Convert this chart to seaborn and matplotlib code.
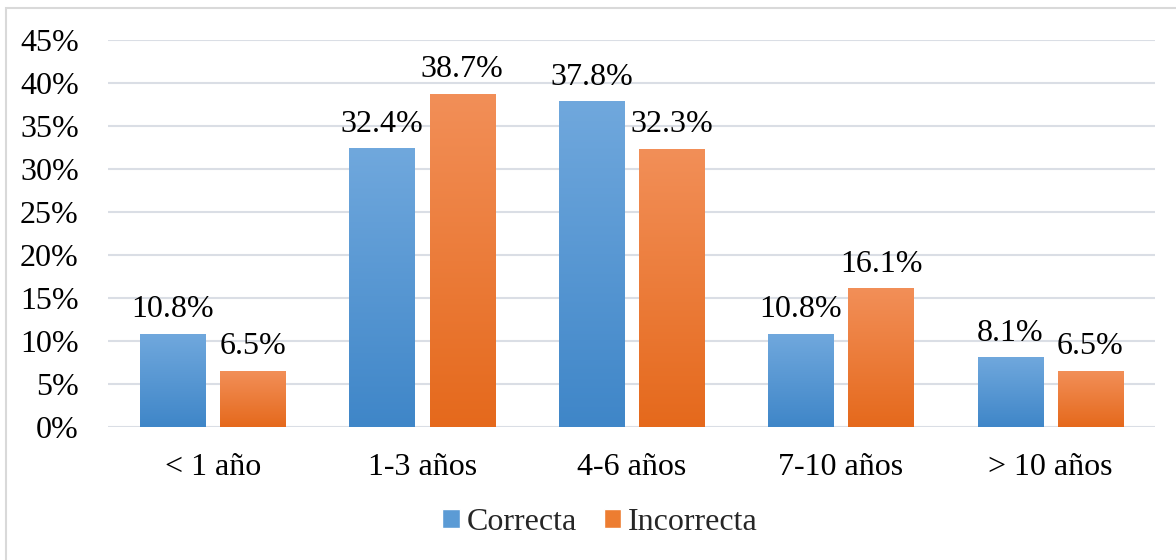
import numpy as np
import pandas as pd
import matplotlib
matplotlib.use("Agg")
import matplotlib.pyplot as plt
import seaborn as sns
from matplotlib.colors import LinearSegmentedColormap
from matplotlib.patches import Rectangle, Patch

categories = ["< 1 año", "1-3 años", "4-6 años", "7-10 años", "> 10 años"]
series = ["Correcta", "Incorrecta"]
correcta = [10.8, 32.4, 37.8, 10.8, 8.1]
incorrecta = [6.5, 38.7, 32.3, 16.1, 6.5]
y_ticks = [0, 5, 10, 15, 20, 25, 30, 35, 40, 45]

df = pd.DataFrame({
    "categoria": categories * 2,
    "serie": [series[0]] * len(categories) + [series[1]] * len(categories),
    "valor": correcta + incorrecta,
})

sns.set_theme(style="white")
plt.rcParams["font.family"] = ["Liberation Serif", "DejaVu Serif"]

FS = 23
fig = plt.figure(figsize=(11.76, 5.6), dpi=100)
ax = fig.add_axes([108 / 1176, 1 - 427 / 560, 1047 / 1176, (427 - 40) / 560])

palette = {"Correcta": "#5b9bd5", "Incorrecta": "#ed7d31"}
sns.barplot(data=df, x="categoria", y="valor", hue="serie", order=categories,
            hue_order=series, palette=palette, width=0.766, gap=0.1875,
            legend=False, ax=ax, zorder=3)

ax.set_ylim(0, 45)
ax.set_xlim(-0.5, len(categories) - 0.5)
ax.set_yticks(y_ticks)
ax.set_yticklabels([f"{t}%" for t in y_ticks])
ax.yaxis.grid(True, color="#dadee5", linewidth=1.5, zorder=0)
ax.set_axisbelow(True)
for s in ax.spines.values():
    s.set_visible(False)
ax.set_xlabel("")
ax.set_ylabel("")
ax.tick_params(axis="y", length=0, pad=21, labelsize=FS, colors="black")
ax.tick_params(axis="x", length=0, pad=19, labelsize=FS, colors="black")

# gradient fills: lighter at the top, deeper at the bottom
gradients = {
    "Correcta": ("#70a8dd", "#3f86c8"),
    "Incorrecta": ("#f28f58", "#e5691c"),
}
values_by_series = [correcta, incorrecta]
for container, name, vals in zip(ax.containers, series, values_by_series):
    top_c, bot_c = gradients[name]
    cmap = LinearSegmentedColormap.from_list(name, [bot_c, top_c])
    for bar, v in zip(container.patches, vals):
        x0 = bar.get_x()
        w = bar.get_width()
        h = bar.get_height()
        bar.set_alpha(0)
        grad = np.linspace(0, 1, 256).reshape(-1, 1)
        ax.imshow(grad, extent=[x0, x0 + w, 0, h], origin="lower", cmap=cmap,
                  aspect="auto", zorder=3)
        ax.annotate(f"{v:.1f}%", (x0 + w / 2, h), xytext=(0, 7),
                    textcoords="offset points", ha="center", va="bottom",
                    fontsize=FS, color="black", zorder=4)

ax.set_xlim(-0.5, len(categories) - 0.5)
ax.set_ylim(0, 45)

handles = [Patch(facecolor="#5b9bd5"), Patch(facecolor="#ed7d31")]
fig.legend(handles, series, loc="center", bbox_to_anchor=(600 / 1176, 1 - 522 / 560),
           ncol=2, frameon=False, fontsize=FS, handlelength=0.55,
           handleheight=0.55, handletextpad=0.2, columnspacing=0.85)

# outer chart frame
fig.patches.append(Rectangle((6 / 1176, -0.1), 1.2, 1 - 8 / 560 + 0.1,
                             transform=fig.transFigure, fill=False,
                             edgecolor="#d9d9d9", linewidth=1.5))

fig.savefig("out.png", dpi=100)
